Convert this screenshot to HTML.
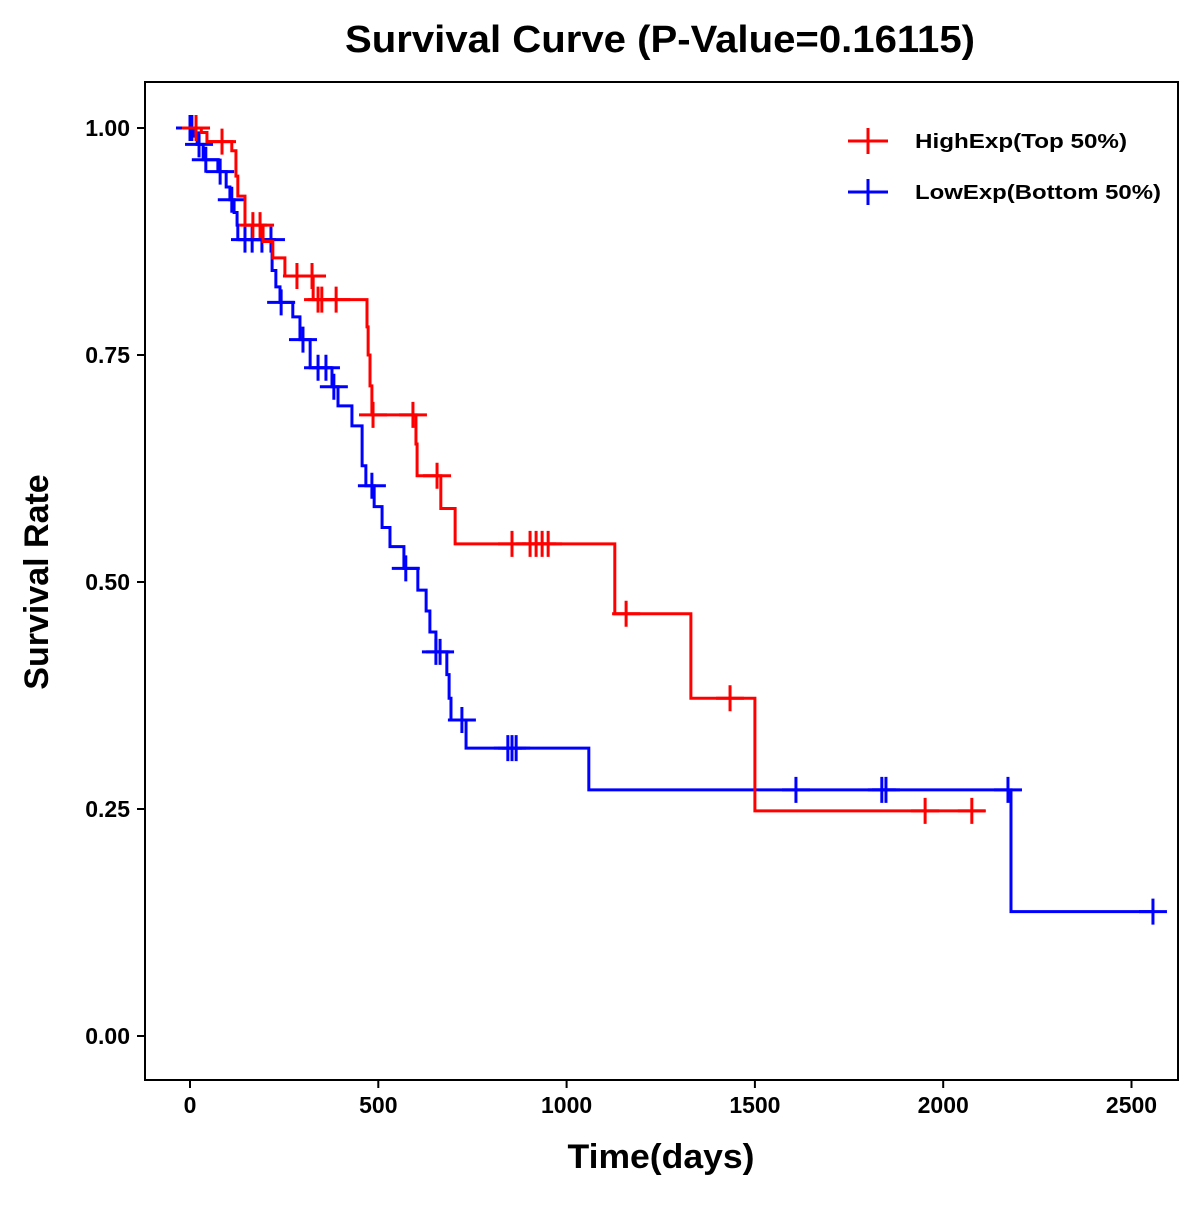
<!DOCTYPE html>
<html><head><meta charset="utf-8"><style>
body{margin:0;background:#fff;}
svg text{font-family:"Liberation Sans",Arial,sans-serif;font-weight:bold;}
</style></head><body>
<svg id="chart" width="1200" height="1200" xmlns="http://www.w3.org/2000/svg">
<text x="660" y="52" font-size="38" text-anchor="middle" textLength="630" lengthAdjust="spacingAndGlyphs">Survival Curve (P-Value=0.16115)</text>
<rect x="145" y="82" width="1033" height="998" fill="none" stroke="#000" stroke-width="2"/>
<g id="axes"></g>
<g id="series"></g>
<text x="661" y="1168" font-size="34" text-anchor="middle" textLength="187" lengthAdjust="spacingAndGlyphs">Time(days)</text>
<text x="48" y="582" font-size="34" text-anchor="middle" transform="rotate(-90 48 582)">Survival Rate</text>
<g>
 <g>
  <line x1="848" y1="141" x2="888" y2="141" stroke="#f00" stroke-width="3"/>
  <line x1="868" y1="128" x2="868" y2="154" stroke="#f00" stroke-width="3"/>
  <text x="915" y="148" font-size="20" textLength="212" lengthAdjust="spacingAndGlyphs">HighExp(Top 50%)</text>
 </g>
 <g>
  <line x1="848" y1="192" x2="888" y2="192" stroke="#00f" stroke-width="3"/>
  <line x1="868" y1="179" x2="868" y2="205" stroke="#00f" stroke-width="3"/>
  <text x="915" y="199" font-size="20" textLength="246" lengthAdjust="spacingAndGlyphs">LowExp(Bottom 50%)</text>
 </g>
</g>
</svg>
<script>
const xTicks=[0,500,1000,1500,2000,2500];
const yTicks=[0,0.25,0.5,0.75,1.0];
const yTickLabels=["0.00","0.25","0.50","0.75","1.00"];
const highTimes=[30,45,111,122,127,146,194,220,252,327,470,473,478,483,600,603,666,704,1128,1330,1500];
const highSurv=[0.995,0.985,0.975,0.947,0.925,0.893,0.875,0.857,0.837,0.811,0.781,0.750,0.716,0.684,0.652,0.617,0.581,0.542,0.465,0.372,0.248];
const highEnd=2111;
const highCensor=[16,85,167,186,284,324,340,350,388,486,592,656,855,903,919,935,951,1158,1434,1952,2076];
const lowTimes=[8,19,35,74,96,106,117,125,127,218,228,239,273,292,319,377,393,430,457,467,489,510,531,568,605,627,637,653,682,688,693,733,1059,2180];
const lowSurv=[0.991,0.982,0.965,0.952,0.935,0.921,0.907,0.893,0.877,0.843,0.825,0.808,0.792,0.767,0.736,0.715,0.694,0.672,0.628,0.606,0.583,0.560,0.539,0.515,0.491,0.468,0.445,0.423,0.398,0.372,0.348,0.317,0.271,0.137];
const lowEnd=2557;
const lowCensor=[0,5,24,42,80,111,146,165,191,215,242,300,340,361,382,483,573,653,664,722,844,855,866,1609,1837,1848,2172,2557];

const X=t=>190+t*(188.3/500);
const Y=s=>1036-s*908;
const NS="http://www.w3.org/2000/svg";
function mk(tag,attrs,parent){const e=document.createElementNS(NS,tag);for(const k in attrs)e.setAttribute(k,attrs[k]);parent.appendChild(e);return e;}
const axes=document.getElementById('axes');
xTicks.forEach(v=>{
  const g=mk('g',{},axes);
  
  
  mk('line',{x1:X(v),x2:X(v),y1:1080,y2:1088,stroke:'#000','stroke-width':2},g);
  const t=mk('text',{x:X(v),y:1113,'font-size':23,'text-anchor':'middle'},g);t.textContent=v;
});
yTicks.forEach((v,i)=>{
  const g=mk('g',{},axes);
  
  
  mk('line',{x1:137,x2:145,y1:Y(v),y2:Y(v),stroke:'#000','stroke-width':2},g);
  const t=mk('text',{x:130,y:Y(v)+8,'font-size':23,'text-anchor':'end'},g);t.textContent=yTickLabels[i];
});
function survAt(times,surv,t){let s=1;for(let i=0;i<times.length;i++){if(times[i]<=t)s=surv[i];}return s;}
function drawSeries(times,surv,end,censor,color,name){
  const g=mk('g',{},document.getElementById('series'));
  
  
  let d='M'+X(0)+' '+Y(1);
  for(let i=0;i<times.length;i++){d+=' H'+X(times[i])+' V'+Y(surv[i]);}
  d+=' H'+X(end);
  const p=mk('path',{d:d,fill:'none',stroke:color,'stroke-width':3},g);
  
  
  censor.forEach(c=>{
    const sv=survAt(times,surv,c);const cx=X(c),cy=Y(sv);
    const m=mk('path',{d:`M${cx-14} ${cy} H${cx+14} M${cx} ${cy-13} V${cy+13}`,stroke:color,'stroke-width':3,fill:'none'},g);
    
    
  });
}
drawSeries(lowTimes,lowSurv,lowEnd,lowCensor,'#00f','low-exp-series');
drawSeries(highTimes,highSurv,highEnd,highCensor,'#f00','high-exp-series');
</script>
</body></html>
